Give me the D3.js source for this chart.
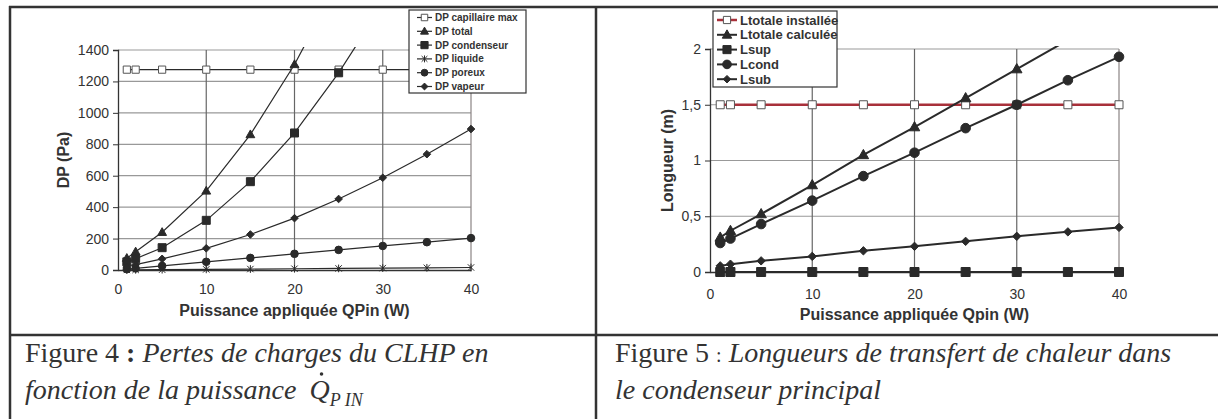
<!DOCTYPE html>
<html>
<head>
<meta charset="utf-8">
<script src="https://cdn.jsdelivr.net/npm/d3@7"></script>
<style>
  body { margin: 0; background: #fff; }
  svg { display: block; }
  .tick-label { font-family: "Liberation Sans", Arial, sans-serif; font-size: 14px; fill: #333; }
  .axis-title { font-family: "Liberation Sans", Arial, sans-serif; font-weight: bold; font-size: 16px; fill: #333; }
  .caption { font-family: "Liberation Serif", "Times New Roman", serif; font-size: 28px; fill: #333; }
</style>
</head>
<body>
<svg id="fig" width="1218" height="419"></svg>
<script>
// x values (W) shared by both figures
const puissance = [1, 2, 5, 10, 15, 20, 25, 30, 35, 40];

// Figure 4 : pressure drops (Pa)
const dpCapillaireMax = [1275, 1275, 1275, 1275, 1275, 1275, 1275, 1275, 1275, 1275];
const dpTotal = [75, 116, 240, 503, 862, 1308, 1835];
const dpCondenseur = [52, 72, 142, 316, 562, 872, 1255, 1690];
const dpLiquide = [0.5, 1, 2, 4, 6, 8, 10, 12, 14, 16];
const dpPoreux = [5, 10, 26, 52, 77, 103, 128, 153, 177, 203];
const dpVapeur = [18, 34, 71, 138, 226, 330, 452, 587, 737, 897];
const dpTicks = [0, 200, 400, 600, 800, 1000, 1200, 1400];

// Figure 5 : heat transfer lengths (m)
const lTotaleInstallee = [1.5, 1.5, 1.5, 1.5, 1.5, 1.5, 1.5, 1.5, 1.5, 1.5];
const lTotaleCalculee = [0.31, 0.37, 0.52, 0.78, 1.05, 1.30, 1.56, 1.82, 2.08, 2.33];
const lSup = [0, 0, 0, 0, 0, 0, 0, 0, 0, 0];
const lCond = [0.26, 0.30, 0.43, 0.64, 0.86, 1.07, 1.29, 1.50, 1.72, 1.93];
const lSub = [0.055, 0.07, 0.10, 0.14, 0.19, 0.23, 0.275, 0.32, 0.36, 0.40];
const lTicks = [0, 0.5, 1, 1.5, 2];

const xTicks = [0, 10, 20, 30, 40];

const svg = d3.select("#fig");

// marker shapes, s = half size in px
const shapes = {
  square: s => `M${-s},${-s}h${2 * s}v${2 * s}h${-2 * s}Z`,
  triangle: s => `M0,${-s * 1.1}L${s * 1.05},${s * 0.75}L${-s * 1.05},${s * 0.75}Z`,
  diamond: s => `M0,${-s}L${s},0L0,${s}L${-s},0Z`,
  circle: s => `M${s},0A${s},${s} 0 1,1 ${-s},0A${s},${s} 0 1,1 ${s},0Z`,
  star: s => `M${-s},${-s}L${s},${s}M${-s},${s}L${s},${-s}M0,${-s * 1.2}L0,${s * 1.2}`
};

function drawMarker(g, shape, size, open) {
  g.append("path")
    .attr("d", shapes[shape](size))
    .attr("fill", open ? "#fff" : (shape === "star" ? "none" : "#2a2a2a"))
    .attr("stroke", open ? "#555" : "#2a2a2a")
    .attr("stroke-width", 1);
}

function drawChart(cfg) {
  const x = d3.scaleLinear().domain([0, 40]).range(cfg.xRange);
  const y = d3.scaleLinear().domain(cfg.yDomain).range(cfg.yRange);
  const g = svg.append("g");
  const [x0, x1] = cfg.xRange;
  const [y0, y1] = cfg.yRange;

  // horizontal gridlines
  g.append("g").selectAll("line").data(cfg.yTicks.slice(1)).join("line")
    .attr("x1", x0).attr("x2", x1)
    .attr("y1", d => y(d)).attr("y2", d => y(d))
    .attr("stroke", "#999").attr("stroke-width", 1.2);
  // vertical gridlines
  g.append("g").selectAll("line").data(xTicks.slice(1)).join("line")
    .attr("x1", d => x(d)).attr("x2", d => x(d))
    .attr("y1", y0).attr("y2", y1)
    .attr("stroke", d => d === 40 ? "#8a8484" : "#666").attr("stroke-width", 1.2);

  // y axis
  const yAxis = g.append("g").attr("transform", `translate(${x0},0)`)
    .call(d3.axisLeft(y).tickValues(cfg.yTicks).tickSize(5).tickPadding(4).tickFormat(cfg.yFormat));
  yAxis.select(".domain").attr("stroke", "#333").attr("stroke-width", 1.3);
  yAxis.selectAll(".tick line").attr("stroke", "#333");
  yAxis.selectAll("text").attr("class", "tick-label").attr("font-size", null).attr("font-family", null);

  // x axis
  const xAxis = g.append("g").attr("transform", `translate(0,${y0})`)
    .call(d3.axisBottom(x).tickValues(xTicks).tickSize(0).tickPadding(cfg.xPad));
  xAxis.select(".domain").attr("stroke", "#333").attr("stroke-width", 1.3);
  xAxis.selectAll("text").attr("class", "tick-label").attr("font-size", null).attr("font-family", null);

  // titles
  g.append("text").attr("class", "axis-title")
    .attr("x", (x0 + x1) / 2).attr("y", cfg.xTitleY)
    .attr("text-anchor", "middle").text(cfg.xTitle);
  g.append("text").attr("class", "axis-title")
    .attr("transform", `translate(${cfg.yTitleX},${(y0 + y1) / 2}) rotate(-90)`)
    .attr("text-anchor", "middle").text(cfg.yTitle);

  // series, clipped just above the plot top like the spreadsheet export
  const clipId = "clip" + cfg.id;
  svg.append("clipPath").attr("id", clipId).append("rect")
    .attr("x", x0 - 10).attr("y", y1 - 3).attr("width", x1 - x0 + 20).attr("height", y0 - y1 + 20);
  const sg = g.append("g").attr("clip-path", `url(#${clipId})`);
  const line = d3.line().x(d => x(d[0])).y(d => y(d[1]));

  cfg.series.forEach(s => {
    const pts = s.values.map((v, i) => [puissance[i], v]);
    sg.append("path").datum(pts)
      .attr("d", line)
      .attr("fill", "none")
      .attr("stroke", s.color || "#2a2a2a")
      .attr("stroke-width", s.color ? cfg.lineWidth + 0.5 : cfg.lineWidth);
    pts.forEach(p => {
      const m = sg.append("g").attr("transform", `translate(${x(p[0])},${y(p[1])})`);
      drawMarker(m, s.shape, s.size, s.open);
    });
  });

  // legend
  const L = cfg.legend;
  const lg = svg.append("g").attr("transform", `translate(${L.x},${L.y})`);
  lg.append("rect").attr("width", L.w).attr("height", L.h)
    .attr("fill", "#fff").attr("stroke", "#333").attr("stroke-width", 1.2);
  cfg.series.forEach((s, i) => {
    const ry = L.top + i * L.step;
    lg.append("line").attr("x1", L.lx).attr("x2", L.lx + L.lw).attr("y1", ry).attr("y2", ry)
      .attr("stroke", s.color || "#2a2a2a").attr("stroke-width", s.color ? cfg.lineWidth + 0.5 : cfg.lineWidth);
    const m = lg.append("g").attr("transform", `translate(${L.lx + L.lw / 2},${ry})`);
    drawMarker(m, s.shape, s.size * 0.9, s.open);
    lg.append("text").attr("x", L.lx + L.lw + 3).attr("y", ry).attr("dy", "0.35em")
      .attr("font-family", "'Liberation Sans', Arial, sans-serif")
      .attr("font-weight", "bold").attr("font-size", L.font).attr("fill", "#333")
      .text(s.name);
  });
}

drawChart({
  id: "L",
  xRange: [118, 471], yRange: [270, 50], yDomain: [0, 1400], yTicks: dpTicks,
  yFormat: d3.format("d"), xPad: 14,
  xTitle: "Puissance appliquée QPin (W)", xTitleY: 316,
  yTitle: "DP (Pa)", yTitleX: 69,
  lineWidth: 1.2,
  series: [
    { name: "DP capillaire max", values: dpCapillaireMax, shape: "square", size: 3.6, open: true },
    { name: "DP total", values: dpTotal, shape: "triangle", size: 4.2 },
    { name: "DP condenseur", values: dpCondenseur, shape: "square", size: 4 },
    { name: "DP liquide", values: dpLiquide, shape: "star", size: 3.2 },
    { name: "DP poreux", values: dpPoreux, shape: "circle", size: 3.8 },
    { name: "DP vapeur", values: dpVapeur, shape: "diamond", size: 3.8 }
  ],
  legend: { x: 409, y: 10, w: 117, h: 83, top: 7.5, step: 13.8, lx: 8, lw: 15, font: 10 }
});

drawChart({
  id: "R",
  xRange: [710, 1119], yRange: [272, 49], yDomain: [0, 2], yTicks: lTicks,
  yFormat: d => String(d).replace(".", ","), xPad: 17,
  xTitle: "Puissance appliquée Qpin (W)", xTitleY: 320,
  yTitle: "Longueur (m)", yTitleX: 673,
  lineWidth: 2,
  series: [
    { name: "Ltotale installée", values: lTotaleInstallee, shape: "square", size: 4, open: true, color: "#a8303a" },
    { name: "Ltotale calculée", values: lTotaleCalculee, shape: "triangle", size: 5 },
    { name: "Lsup", values: lSup, shape: "square", size: 4.5 },
    { name: "Lcond", values: lCond, shape: "circle", size: 4.8 },
    { name: "Lsub", values: lSub, shape: "diamond", size: 4.2 }
  ],
  legend: { x: 713, y: 11, w: 124, h: 76, top: 9, step: 14.8, lx: 4, lw: 20, font: 13 }
});

// table borders
const border = svg.append("g").attr("stroke", "#333").attr("stroke-width", 2.5);
border.append("line").attr("x1", 9).attr("x2", 1218).attr("y1", 7).attr("y2", 7);
border.append("line").attr("x1", 10).attr("x2", 10).attr("y1", 6).attr("y2", 419);
border.append("line").attr("x1", 596).attr("x2", 596).attr("y1", 6).attr("y2", 419);
border.append("line").attr("x1", 9).attr("x2", 1218).attr("y1", 335).attr("y2", 335);

// captions
const c4 = svg.append("text").attr("class", "caption").attr("x", 25).attr("y", 362);
c4.append("tspan").text("Figure 4 ");
c4.append("tspan").attr("font-weight", "bold").text(":");
c4.append("tspan").attr("font-style", "italic").text(" Pertes de charges du CLHP en");

const c4b = svg.append("text").attr("class", "caption").attr("x", 25).attr("y", 399).attr("font-style", "italic");
c4b.append("tspan").text("fonction de la puissance");
c4b.append("tspan").attr("dx", 13).text("Q");
c4b.append("tspan").attr("dy", 7).attr("font-size", 18).text("P IN");
// dot over the Q
const qIndex = "fonction de la puissance".length;
const qPos = c4b.node().getStartPositionOfChar(qIndex);
const qEnd = c4b.node().getEndPositionOfChar(qIndex);
svg.append("circle").attr("cx", (qPos.x + qEnd.x) / 2 + 2).attr("cy", 399 - 25).attr("r", 1.8).attr("fill", "#333");

const c5 = svg.append("text").attr("class", "caption").attr("x", 615).attr("y", 362);
c5.append("tspan").text("Figure 5 ");
c5.append("tspan").attr("font-size", 20).text(":");
c5.append("tspan").attr("font-style", "italic").text(" Longueurs de transfert de chaleur dans");
svg.append("text").attr("class", "caption").attr("x", 615).attr("y", 399)
  .attr("font-style", "italic").text("le condenseur principal");
</script>
</body>
</html>
